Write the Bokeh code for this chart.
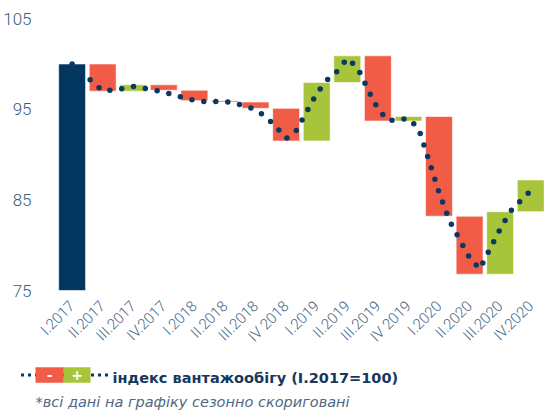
import numpy as np
from bokeh.plotting import figure
from bokeh.models import Range1d, FixedTicker, ColumnDataSource
from bokeh.layouts import column
from bokeh.core.properties import value
from bokeh.embed import file_html
from bokeh.resources import INLINE

# ---------------- data ----------------
quarters = ["I.2017", "II.2017", "III.2017", "IV.2017",
            "I.2018", "II.2018", "III.2018", "IV 2018",
            "I.2019", "II.2019", "III.2019", "IV 2019",
            "I.2020", "II.2020", "III.2020", "IV.2020"]
# quarterly level of the freight turnover index (I.2017 = 100)
quarter_level = [100.0, 97.0, 97.7, 97.1,
                 95.95, 95.8, 95.1, 91.5,
                 97.95, 100.9, 93.7, 94.2,
                 83.2, 76.8, 83.7, 87.2]
# monthly index (dotted line), one value per month from the I.2017 point
monthly_index = [100.0, 99.05, 98.0, 97.02, 97.12, 97.30, 97.52, 97.32, 97.12,
                 96.90, 96.59, 96.25, 95.97, 95.86, 95.86, 95.86, 95.66, 95.36,
                 94.94, 94.19, 93.07, 91.78, 92.66, 94.71, 96.74, 98.21, 99.18,
                 100.6, 99.6, 97.23, 95.05, 93.76, 93.85, 93.97, 92.86, 89.39,
                 85.83, 82.75, 80.67, 78.62, 77.37, 79.59, 81.78, 83.73, 84.9,
                 86.02]
y_ticks = [75, 85, 95, 105]
legend_label = "індекс вантажообігу (I.2017=100)"
footnote = "*всі дані на графіку сезонно скориговані"

NAVY = "#03365f"
RED = "#f05c45"
GREEN = "#a7c43b"
DOT = "#0b3863"

MAIN_H = 362  # main chart canvas height; legend strip fills the rest of 411

# ---------------- main chart ----------------
p = figure(width=544, height=MAIN_H, output_backend="svg", toolbar_location=None,
           x_range=Range1d(-0.805, 15.45), y_range=Range1d(74.67, 105.68),
           min_border_left=45, min_border_right=0, min_border_top=12,
           min_border_bottom=MAIN_H - 293)
p.frame_align = False
p.outline_line_color = None
p.xgrid.visible = False
p.ygrid.visible = False
p.background_fill_color = "white"

xs = list(range(len(quarters)))
bottoms, tops, colors = [], [], []
for i, lv in enumerate(quarter_level):
    if i == 0:
        bottoms.append(y_ticks[0]); tops.append(lv); colors.append(NAVY)
    else:
        prev = quarter_level[i - 1]
        bottoms.append(min(prev, lv)); tops.append(max(prev, lv))
        colors.append(GREEN if lv >= prev else RED)
src = ColumnDataSource(dict(x=xs, bottom=bottoms, top=tops, color=colors))
p.vbar(x="x", bottom="bottom", top="top", width=0.88, fill_color="color",
       line_color="white", line_width=1, line_alpha=0.6, source=src)

mx = [m / 3 for m in range(len(monthly_index))]
p.line(mx, monthly_index, line_color=DOT, line_width=5.5, line_dash="0 12",
       line_cap="round", line_join="round")

p.yaxis.ticker = FixedTicker(ticks=y_ticks)
p.yaxis.axis_line_color = None
p.yaxis.major_tick_line_color = None
p.yaxis.minor_tick_line_color = None
p.yaxis.major_label_standoff = 10
p.yaxis.major_label_text_font = "Roboto Light"
p.yaxis.major_label_text_font_size = "17px"
p.yaxis.major_label_text_color = "#3d5d7e"

p.xaxis.ticker = FixedTicker(ticks=xs)
p.xaxis.major_label_overrides = {i: q for i, q in enumerate(quarters)}
p.xaxis.major_label_orientation = np.pi / 4
p.xaxis.axis_line_color = None
p.xaxis.major_tick_line_color = None
p.xaxis.minor_tick_line_color = None
p.xaxis.major_label_standoff = 4
p.xaxis.major_label_text_font = "Roboto Light"
p.xaxis.major_label_text_font_size = "15px"
p.xaxis.major_label_text_color = "#44668a"

# ---------------- legend + footnote strip (page-pixel layout) ----------------
q = figure(width=544, height=411 - MAIN_H, output_backend="svg", toolbar_location=None,
           x_range=Range1d(0, 544), y_range=Range1d(411, MAIN_H),
           x_axis_location=None, y_axis_location=None,
           min_border_left=0, min_border_right=0, min_border_top=0,
           min_border_bottom=0)
q.frame_align = False
q.outline_line_color = None
q.grid.visible = False

q.line([20.5, 108], [374.5, 374.5], line_color=DOT, line_width=3, line_dash="3 4")
q.quad(left=[35], right=[63.3], top=[366.7], bottom=[382.3], fill_color=RED, line_color=None)
q.quad(left=[63.3], right=[90], top=[366.7], bottom=[382.3], fill_color=GREEN, line_color=None)
q.text(x=[49.2, 76.7], y=[374.5, 374.5], text=["-", "+"], text_color="white",
       text_font=value("DejaVu Sans"), text_font_size="14px", text_font_style="bold",
       text_align="center", text_baseline="middle")
q.text(x=[112], y=[377.5], text=[legend_label], text_color="#17375e",
       text_font=value("DejaVu Sans"), text_font_size="14.5px", text_font_style="bold",
       text_align="left", text_baseline="alphabetic")
q.text(x=[35], y=[401.5], text=[footnote], text_color="#4f6782",
       text_font=value("DejaVu Sans"), text_font_size="14.5px", text_font_style="italic",
       text_align="left", text_baseline="alphabetic")

layout = column(p, q, spacing=0)
open("out.html", "w").write(file_html(layout, INLINE))
